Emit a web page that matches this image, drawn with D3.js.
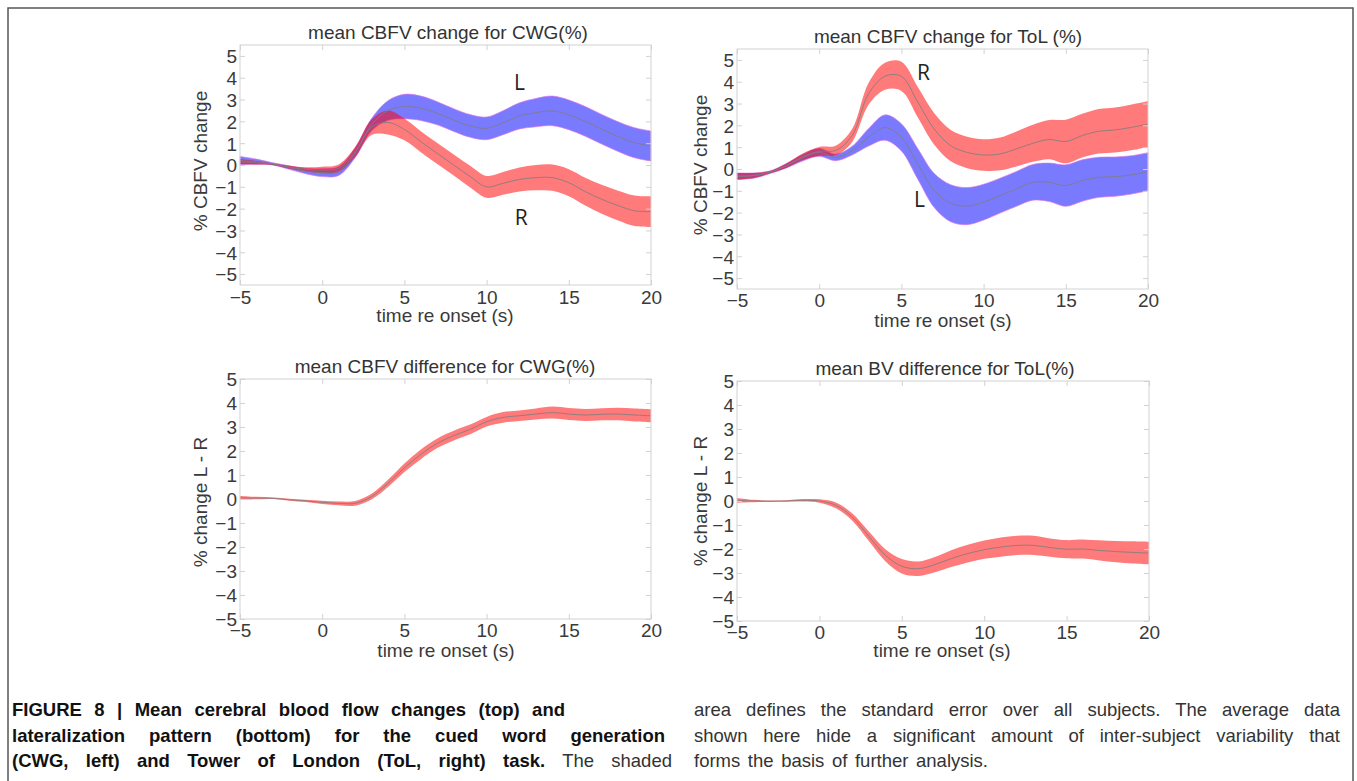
<!DOCTYPE html>
<html><head><meta charset="utf-8">
<script src="https://cdn.jsdelivr.net/npm/d3@7"></script>
<style>body{margin:0;background:#fff;} svg{display:block;}</style>
</head><body>
<svg id="fig" width="1357" height="781"></svg>
<script>
// ---------- data ----------
const time = [-5,-4,-3,-2,-1,0,1,2,3,4,5,6,7,8,9,10,11,12,13,14,15,16,17,18,19,20];
const xTicks = [-5,0,5,10,15,20];
const yTicks = [-5,-4,-3,-2,-1,0,1,2,3,4,5];

// mean CBFV change for CWG — left (L) and right (R) hemisphere, mean and standard error
const cwgL   = [0.20,0.15,0.05,-0.12,-0.28,-0.35,-0.28,0.55,1.85,2.50,2.68,2.60,2.37,2.06,1.79,1.68,1.94,2.25,2.40,2.48,2.30,2.00,1.64,1.30,1.02,0.87];
const cwgLse = [0.19,0.12,0.05,0.08,0.12,0.18,0.20,0.22,0.28,0.45,0.56,0.56,0.53,0.52,0.52,0.52,0.55,0.60,0.65,0.68,0.68,0.68,0.68,0.68,0.69,0.69];
const cwgR   = [0.15,0.10,0.03,-0.10,-0.20,-0.23,-0.15,0.60,1.73,1.95,1.63,1.07,0.53,0.00,-0.53,-1.00,-0.84,-0.66,-0.58,-0.58,-0.81,-1.22,-1.57,-1.86,-2.10,-2.14];
const cwgRse = [0.12,0.08,0.04,0.07,0.10,0.15,0.17,0.22,0.35,0.55,0.50,0.48,0.48,0.48,0.50,0.50,0.52,0.55,0.58,0.60,0.62,0.64,0.66,0.68,0.70,0.70];

// mean CBFV change for ToL
const tolR   = [-0.33,-0.30,-0.15,0.15,0.56,0.81,0.85,1.53,3.44,4.25,4.25,3.06,1.83,1.07,0.76,0.64,0.69,0.92,1.18,1.35,1.26,1.53,1.73,1.79,1.91,2.06];
const tolRse = [0.15,0.12,0.06,0.10,0.15,0.20,0.22,0.30,0.50,0.62,0.67,0.70,0.72,0.72,0.72,0.72,0.75,0.80,0.85,0.90,1.00,1.00,1.02,1.03,1.05,1.05];
const tolL   = [-0.33,-0.30,-0.15,0.15,0.52,0.76,0.53,0.84,1.45,1.90,1.45,0.23,-0.99,-1.57,-1.70,-1.52,-1.22,-0.91,-0.61,-0.61,-0.76,-0.53,-0.38,-0.35,-0.27,-0.12];
const tolLse = [0.15,0.12,0.06,0.10,0.15,0.18,0.15,0.20,0.40,0.58,0.62,0.70,0.78,0.85,0.85,0.82,0.80,0.80,0.82,0.88,0.95,0.95,0.92,0.90,0.88,0.87];

// lateralization L - R
const cwgDiff   = [0.05,0.04,0.03,-0.03,-0.08,-0.14,-0.18,-0.18,0.10,0.65,1.30,1.86,2.32,2.64,2.90,3.22,3.40,3.47,3.54,3.60,3.54,3.50,3.53,3.54,3.50,3.47];
const cwgDiffSe = [0.08,0.05,0.03,0.04,0.05,0.07,0.08,0.10,0.12,0.15,0.18,0.20,0.20,0.20,0.20,0.20,0.22,0.22,0.23,0.25,0.25,0.25,0.25,0.26,0.27,0.27];
const tolDiff   = [0.03,0.00,-0.01,0.00,0.03,0.00,-0.18,-0.67,-1.47,-2.26,-2.72,-2.82,-2.65,-2.40,-2.19,-2.03,-1.92,-1.85,-1.85,-1.94,-2.01,-2.00,-2.06,-2.11,-2.14,-2.17];
const tolDiffSe = [0.10,0.05,0.03,0.03,0.05,0.07,0.12,0.15,0.20,0.25,0.30,0.30,0.32,0.35,0.37,0.38,0.40,0.40,0.40,0.38,0.38,0.40,0.42,0.44,0.46,0.47];

const titles = ["mean CBFV change for CWG(%)","mean CBFV change for ToL (%)","mean CBFV difference for CWG(%)","mean BV difference for ToL(%)"];
const yLabels = ["% CBFV change","% CBFV change","% change L - R","% change L - R"];
const xLabel = "time re onset (s)";

const captionLeft = [
  [{t:"FIGURE 8 | Mean cerebral blood flow changes (top) and", b:true}],
  [{t:"lateralization pattern (bottom) for the cued word generation", b:true}],
  [{t:"(CWG, left) and Tower of London (ToL, right) task.", b:true},{t:" The shaded", b:false}]
];
const captionRight = [
  [{t:"area defines the standard error over all subjects. The average data", b:false}],
  [{t:"shown here hide a significant amount of inter-subject variability that", b:false}],
  [{t:"forms the basis of further analysis.", b:false}]
];

// ---------- layout ----------
const BLUE = "#0000ff", RED = "#ff0000";
const panels = [
  {x0:240,x1:651,y0:45,y1:285,ydom:[-5.5,5.5],titleX:448,titleY:39,xlabX:445,xlabY:322,tickY:304,ylabX:207,ylabY:161,
   series:[{m:cwgL,s:cwgLse,c:BLUE},{m:cwgR,s:cwgRse,c:RED}],
   marks:[{text:"L",t:12.0,v:3.45},{text:"R",t:12.1,v:-2.75}]},
  {x0:737,x1:1148,y0:49,y1:289,ydom:[-5.5,5.5],titleX:948,titleY:43,xlabX:943,xlabY:327,tickY:307,ylabX:707,ylabY:165,
   series:[{m:tolL,s:tolLse,c:BLUE},{m:tolR,s:tolRse,c:RED}],
   marks:[{text:"R",t:6.35,v:4.1},{text:"L",t:6.1,v:-1.76}]},
  {x0:240,x1:651,y0:379,y1:619,ydom:[-5,5],titleX:445,titleY:373,xlabX:446,xlabY:657,tickY:637,ylabX:207,ylabY:502,
   series:[{m:cwgDiff,s:cwgDiffSe,c:RED}], marks:[]},
  {x0:737,x1:1149,y0:381,y1:621,ydom:[-5,5],titleX:945,titleY:375,xlabX:942,xlabY:657,tickY:639,ylabX:707,ylabY:501,
   series:[{m:tolDiff,s:tolDiffSe,c:RED}], marks:[]}
];

const svg = d3.select("#fig");
const FONT = "'Liberation Sans', Arial, sans-serif";
const TXT = "#3a3a3a", BOX = "#d2d2d2";

// outer frame
svg.append("path").attr("d","M8,781V8H1353V781").attr("fill","none").attr("stroke","#555").attr("stroke-width",1.5);

panels.forEach((p,i) => {
  const x = d3.scaleLinear().domain([-5,20]).range([p.x0,p.x1]);
  const y = d3.scaleLinear().domain(p.ydom).range([p.y1,p.y0]);
  const g = svg.append("g");

  // bands
  p.series.forEach(s => {
    const pts = time.map((t,k)=>({t, m:s.m[k], s:s.s[k]}));
    const area = d3.area().x(d=>x(d.t)).y0(d=>y(d.m-d.s)).y1(d=>y(d.m+d.s)).curve(d3.curveCatmullRom.alpha(0.5));
    g.append("path").datum(pts).attr("d",area).attr("fill",s.c).attr("fill-opacity",0.52)
      .attr("stroke", s.c===BLUE ? "#e070e8" : "none").attr("stroke-width",0.8).attr("stroke-opacity",0.8);
  });
  p.series.forEach(s => {
    const pts = time.map((t,k)=>({t, m:s.m[k]}));
    const line = d3.line().x(d=>x(d.t)).y(d=>y(d.m)).curve(d3.curveCatmullRom.alpha(0.5));
    g.append("path").datum(pts).attr("d",line).attr("fill","none").attr("stroke","#7e7e7e").attr("stroke-width",1).attr("stroke-opacity",0.85);
  });

  // box
  g.append("rect").attr("x",p.x0).attr("y",p.y0).attr("width",p.x1-p.x0).attr("height",p.y1-p.y0)
    .attr("fill","none").attr("stroke",BOX).attr("stroke-width",1);

  // axes
  const ax = (gen, tx, ty, labels) => {
    const a = g.append("g").attr("transform",`translate(${tx},${ty})`).call(gen);
    a.select(".domain").remove();
    a.selectAll("line").attr("stroke",BOX);
    if (!labels) a.selectAll("text").remove();
    return a;
  };
  const yt = yTicks;
  const bottom = ax(d3.axisBottom(x).tickValues(xTicks).tickSize(-5).tickPadding(4).tickFormat(d3.format("d")), 0, p.y1, true);
  bottom.selectAll("text").attr("dy",null).attr("y",p.tickY - p.y1)
    .attr("font-family",FONT).attr("font-size",19).attr("fill",TXT);
  ax(d3.axisTop(x).tickValues(xTicks).tickSize(-5), 0, p.y0, false);
  const left = ax(d3.axisLeft(y).tickValues(yt).tickSize(-5).tickPadding(3).tickFormat(d3.format("d")), p.x0, 0, true);
  left.selectAll("text").attr("font-family",FONT).attr("font-size",19).attr("fill",TXT).attr("dy","0.36em");
  ax(d3.axisRight(y).tickValues(yt).tickSize(-5), p.x1, 0, false);

  // titles & labels
  svg.append("text").attr("x",p.titleX).attr("y",p.titleY).attr("text-anchor","middle")
    .attr("font-family",FONT).attr("font-size",19).attr("fill","#333").text(titles[i]);
  svg.append("text").attr("x",p.xlabX).attr("y",p.xlabY).attr("text-anchor","middle")
    .attr("font-family",FONT).attr("font-size",19).attr("fill",TXT).text(xLabel);
  svg.append("text").attr("transform",`translate(${p.ylabX},${p.ylabY}) rotate(-90)`).attr("text-anchor","middle")
    .attr("font-family",FONT).attr("font-size",19).attr("fill",TXT).text(yLabels[i]);

  p.marks.forEach(mk => {
    svg.append("text").attr("x",x(mk.t)).attr("y",y(mk.v)).attr("text-anchor","middle")
      .attr("font-family","'Open Sans', sans-serif").attr("font-size",21).attr("fill","#222").text(mk.text);
  });
});

// caption
const capFont = "'Liberation Sans', Arial, sans-serif";
function captionCol(lines, x0, targets, baselines){
  lines.forEach((segs, i) => {
    const t = svg.append("text").attr("x",x0).attr("y",baselines[i])
      .attr("font-family",capFont).attr("font-size",18.5);
    segs.forEach(s => t.append("tspan").attr("font-weight", s.b ? "bold" : "normal")
      .attr("fill", s.b ? "#111" : "#333").text(s.t));
    if (targets[i] != null) {
      const nat = t.node().getComputedTextLength();
      const full = segs.map(s=>s.t).join("");
      const n = (full.match(/ /g)||[]).length;
      if (n > 0) t.style("word-spacing", ((targets[i]-x0-nat)/n) + "px");
    }
  });
}
captionCol(captionLeft, 12, [565,665,672], [716,742,767]);
captionCol(captionRight, 694, [1340,1340,988], [716,742,767]);
</script>
</body></html>
